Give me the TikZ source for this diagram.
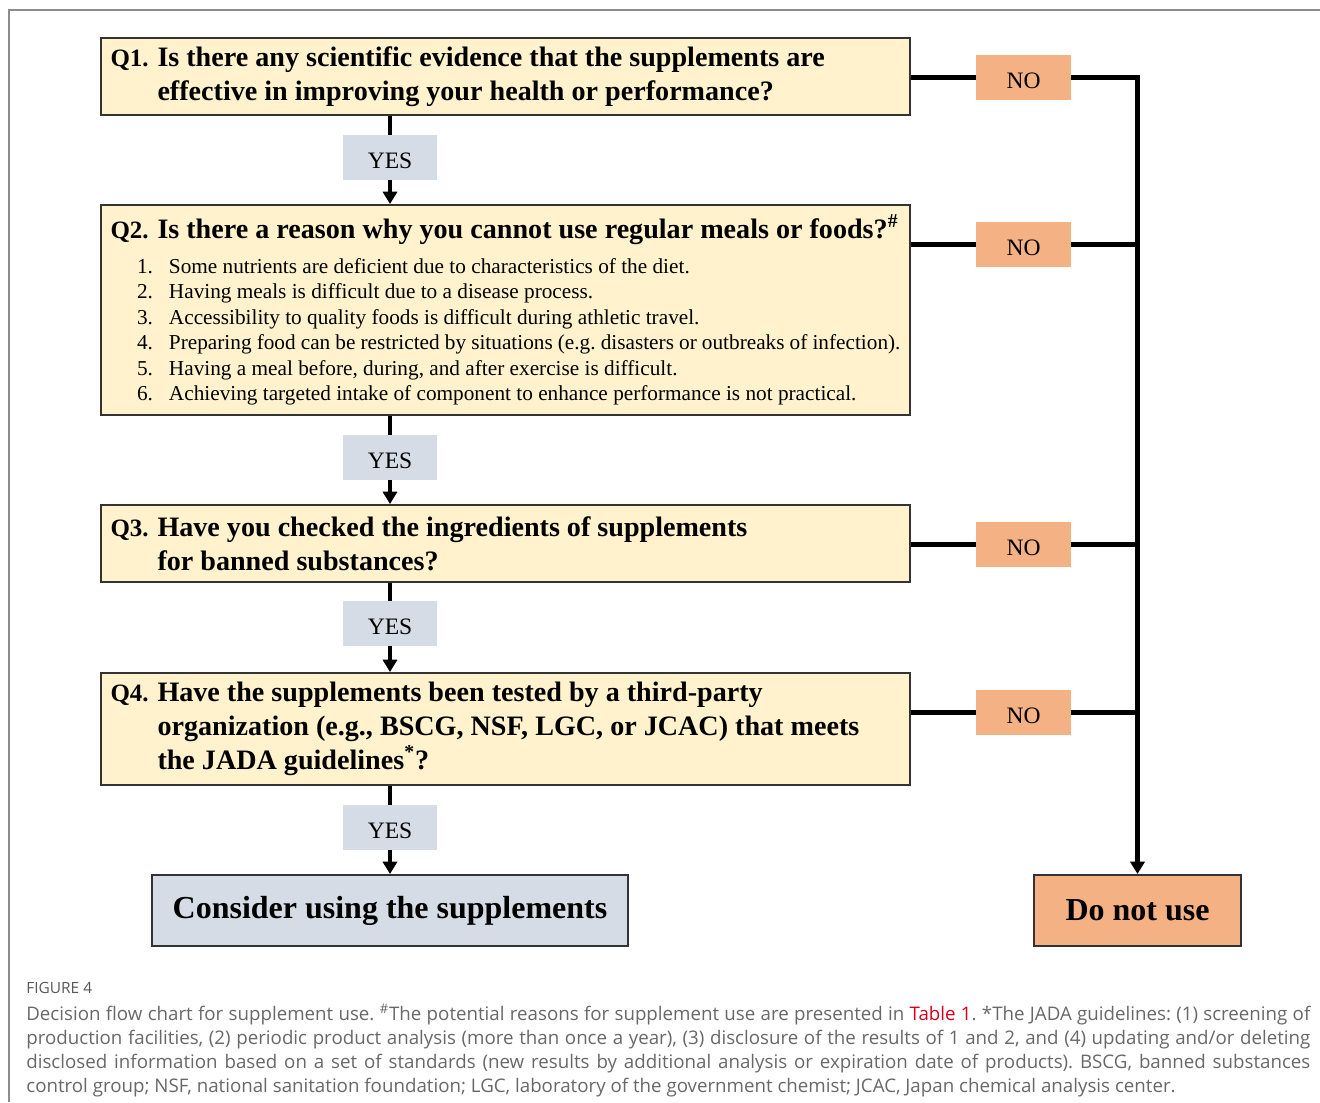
\documentclass[tikz,border=0pt]{standalone}
\usepackage{fontspec}
\setmainfont{Liberation Serif}
\newfontfamily\capfont{Open Sans}
\usetikzlibrary{arrows.meta}

\definecolor{qyellow}{HTML}{FFF2CC}
\definecolor{noorange}{HTML}{F4B183}
\definecolor{yesgray}{HTML}{D6DCE5}
\definecolor{capgray}{HTML}{686868}
\definecolor{tabred}{HTML}{D6001C}
\definecolor{framegray}{HTML}{8C8C8C}

\newcommand{\qnum}[1]{\makebox[0.94cm][l]{\fontsize{14.2}{19.3}\selectfont#1}}
\newcommand{\itm}[1]{\hspace*{0.53cm}\makebox[0.64cm][l]{#1}}

\tikzset{
  qbox/.style={draw=black!80, line width=1.1pt, fill=qyellow, minimum width=16.18cm,
    text width=15.8cm, inner xsep=0.19cm, align=left,
    execute at begin node={\spaceskip=0pt\xspaceskip=0pt\frenchspacing},
    font=\fontsize{16}{19.3}\selectfont\bfseries},
  yesbox/.style={fill=yesgray, minimum width=1.88cm, minimum height=0.9cm,
    text height=12.3pt, text depth=0pt, font=\fontsize{13.4}{16}\selectfont},
  nobox/.style={fill=noorange, minimum width=1.9cm, minimum height=0.9cm,
    text height=12.3pt, text depth=0pt, font=\fontsize{13.4}{16}\selectfont},
  endbox/.style={draw=black!80, line width=1.1pt, minimum height=1.42cm,
    font=\fontsize{18.2}{21}\selectfont\bfseries},
  conn/.style={line width=2.3pt},
  arr/.style={conn, -{Triangle[width=8pt,length=7pt]}}
}

\begin{document}
\begin{tikzpicture}
\useasboundingbox (0,0) rectangle (26.4,-22.04);
\draw[framegray, line width=0.8pt] (0.18,-22.04) |- (26.4,-0.2);

% questions
\node[qbox, minimum height=1.54cm] (q1) at (10.11,-1.53)
  {\qnum{Q1.}Is there any scientific evidence that the supplements are\\
   \qnum{}effective in improving your health or performance?};
\node[qbox, minimum height=4.2cm] (q2) at (10.11,-6.2)
  {\qnum{Q2.}Is there a reason why you cannot use regular meals or foods?\textsuperscript{\#}\par
   \vspace{5pt}
   {\normalfont\fontsize{12.1}{14.5}\selectfont
   \itm{1.}Some nutrients are deficient due to characteristics of the diet.\\
   \itm{2.}Having meals is difficult due to a disease process.\\
   \itm{3.}Accessibility to quality foods is difficult during athletic travel.\\
   \itm{4.}Preparing food can be restricted by situations (e.g. disasters or outbreaks of infection).\\
   \itm{5.}Having a meal before, during, and after exercise is difficult.\\
   \itm{6.}Achieving targeted intake of component to enhance performance is not practical.\par}};
\node[qbox, minimum height=1.54cm] (q3) at (10.11,-10.87)
  {\qnum{Q3.}Have you checked the ingredients of supplements\\
   \qnum{}for banned substances?};
\node[qbox, minimum height=2.24cm] (q4) at (10.11,-14.58)
  {\qnum{Q4.}Have the supplements been tested by a third-party\\
   \qnum{}organization (e.g., BSCG, NSF, LGC, or JCAC) that meets\\
   \qnum{}the JADA guidelines\textsuperscript{*}?};

% answers
\node[yesbox] (yes1) at (7.8,-3.15) {YES};
\node[yesbox] (yes2) at (7.8,-9.15) {YES};
\node[yesbox] (yes3) at (7.8,-12.47) {YES};
\node[yesbox] (yes4) at (7.8,-16.55) {YES};
\node[nobox] (no1) at (20.47,-1.55) {NO};
\node[nobox] (no2) at (20.47,-4.89) {NO};
\node[nobox] (no3) at (20.47,-10.89) {NO};
\node[nobox] (no4) at (20.47,-14.25) {NO};

% outcomes
\node[endbox, fill=yesgray, minimum width=9.52cm] (use) at (7.8,-18.21)
  {Consider using the supplements};
\node[endbox, fill=noorange, minimum width=4.14cm] (nouse) at (22.75,-18.21)
  {Do not use};

% yes path
\draw[conn] (q1.south -| yes1) -- (yes1);
\draw[arr] (yes1) -- (q2.north -| yes1);
\draw[conn] (q2.south -| yes2) -- (yes2);
\draw[arr] (yes2) -- (q3.north -| yes2);
\draw[conn] (q3.south -| yes3) -- (yes3);
\draw[arr] (yes3) -- (q4.north -| yes3);
\draw[conn] (q4.south -| yes4) -- (yes4);
\draw[arr] (yes4) -- (use);

% no path
\draw[conn] (q1.east |- no1) -- (no1);
\draw[conn] (q2.east |- no2) -- (no2);
\draw[conn] (q3.east |- no3) -- (no3);
\draw[conn] (q4.east |- no4) -- (no4);
\draw[arr] (no1.east) -| (nouse.north);
\draw[conn] (no2.east) -- (no2.east -| nouse);
\draw[conn] (no3.east) -- (no3.east -| nouse);
\draw[conn] (no4.east) -- (no4.east -| nouse);

% caption
\node[anchor=north west, inner sep=0pt, text=capgray!85!black, font=\capfont\fontsize{8.8}{10}\selectfont]
  (fig) at (0.52,-19.64) {FIGURE 4};
\node[anchor=north west, inner sep=0pt, text width=25.68cm, align=justify, text=capgray,
  font=\capfont\fontsize{10.65}{13.66}\selectfont\frenchspacing] (cap) at (0.52,-20.08)
  {Decision flow chart for supplement use. \textsuperscript{\#}The potential reasons for supplement use are presented in \textcolor{tabred}{Table 1}. *The JADA guidelines: (1) screening of\linebreak
   production facilities, (2) periodic product analysis (more than once a year), (3) disclosure of the results of 1 and 2, and (4) updating and/or deleting\linebreak
   disclosed information based on a set of standards (new results by additional analysis or expiration date of products). BSCG, banned substances\linebreak
   control group; NSF, national sanitation foundation; LGC, laboratory of the government chemist; JCAC, Japan chemical analysis center.};
\end{tikzpicture}
\end{document}
